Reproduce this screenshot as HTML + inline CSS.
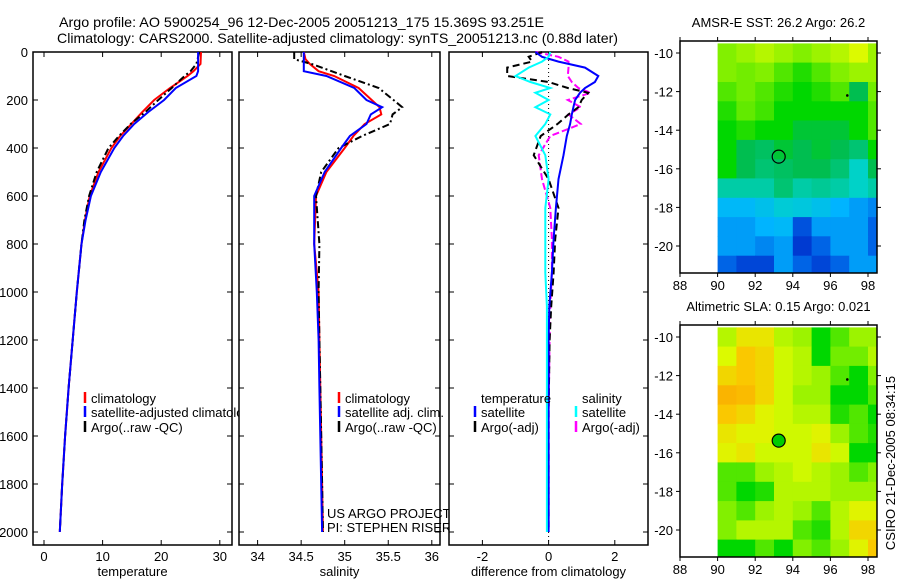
<!DOCTYPE html>
<html><head><meta charset="utf-8"><style>
html,body{margin:0;padding:0;background:#fff;}
svg{display:block;font-family:"Liberation Sans",sans-serif;}
</style></head><body>
<svg id="fig" width="900" height="580" viewBox="0 0 900 580" xmlns="http://www.w3.org/2000/svg">
<rect width="900" height="580" fill="#fff"/>
<text x="59" y="27" font-size="14" textLength="485" lengthAdjust="spacingAndGlyphs">Argo profile: AO 5900254_96 12-Dec-2005 20051213_175 15.369S 93.251E</text>
<text x="57" y="43" font-size="14" textLength="561" lengthAdjust="spacingAndGlyphs">Climatology: CARS2000. Satellite-adjusted climatology: synTS_20051213.nc (0.88d later)</text>
<g id="root"></g>
<text transform="translate(895,463) rotate(-90)" font-size="13" text-anchor="middle">CSIRO 21-Dec-2005 08:34:15</text>
</svg>
<script>
// ---- data ----
const tempDepths=[0,50,80,100,150,200,250,300,350,400,500,600,700,800,1000,1200,1400,1600,1800,2000];
const tempClim=[26.8,26.7,25.5,24.5,21.5,18.8,16.8,14.9,13.0,11.5,9.3,7.8,7.0,6.4,5.6,4.9,4.2,3.6,3.1,2.7];
const tempSat=[26.3,26.3,26.3,26.0,22.5,20.5,17.8,15.4,13.5,12.0,9.7,8.0,7.1,6.4,5.6,4.9,4.2,3.6,3.1,2.7];
const tempArgo=[26.5,26.0,25.0,24.0,21.8,19.5,17.3,14.8,12.8,11.0,9.0,7.7,6.9,6.4,5.6,4.9,4.2,3.6,3.1,2.7];
const saltDepths=[0,30,50,80,100,150,200,230,260,300,350,400,500,600,800,1000,1200,1400,1600,1800,2000];
const saltClim=[34.53,34.55,34.6,34.7,34.88,35.16,35.31,35.4,35.42,35.23,35.1,35.0,34.79,34.67,34.65,34.7,34.71,34.72,34.73,34.74,34.75];
const saltSat=[34.53,34.53,34.53,34.53,34.79,35.11,35.25,35.43,35.3,35.25,35.06,34.96,34.77,34.65,34.65,34.68,34.7,34.71,34.72,34.73,34.74];
const saltArgo=[34.42,34.42,34.62,34.85,35.0,35.39,35.56,35.66,35.55,35.52,35.2,34.93,34.73,34.67,34.71,34.7,34.71,34.72,34.73,34.74,34.75];
const diffDepths=[0,20,40,65,100,125,150,170,200,230,260,300,350,430,530,650,780,920,1060,1200,1500,2000];
const diffTSat=[-0.4,-0.2,0.3,1.1,1.5,1.4,1.1,0.95,0.8,0.75,0.7,0.65,0.55,0.45,0.3,0.22,0.15,0.1,0.02,0.0,0,0];
const diffTArgo=[-0.2,-0.6,-0.5,-1.25,-1.25,0.0,0.58,1.2,1.0,0.9,0.6,0.27,-0.24,-0.45,0.0,0.3,0.2,0.15,0.08,0.03,0,0];
const diffSSat=[0.05,0.0,-0.2,-0.6,-1.0,-0.55,0.05,-0.4,0.0,-0.4,0.05,-0.1,-0.4,-0.1,0.0,-0.1,-0.1,-0.1,-0.05,-0.05,-0.05,-0.05];
const diffSArgo=[-0.4,0.3,0.6,0.6,0.58,0.7,0.9,1.27,0.58,0.97,0.6,0.97,0.05,-0.3,-0.2,0.05,0.1,0.1,0.05,0.03,0,0];
const depthTicks=[0,200,400,600,800,1000,1200,1400,1600,1800,2000];
const tempTicks=[0,10,20,30];
const saltTicks=[34,34.5,35,35.5,36];
const diffTicks=[-2,0,2];
const mapLonTicks=[88,90,92,94,96,98];
const mapLatTicks=[-10,-12,-14,-16,-18,-20];
const gridLons=[90,91,92,93,94,95,96,97,98];
const gridLats=[-10,-11,-12,-13,-14,-15,-16,-17,-18,-19,-20,-21];
const sstGrid=[
[0.58,0.6,0.62,0.6,0.58,0.6,0.62,0.65,0.6],
[0.58,0.57,0.58,0.55,0.52,0.55,0.58,0.6,0.6],
[0.55,0.57,0.55,0.52,0.5,0.52,0.55,0.47,0.57],
[0.52,0.56,0.54,0.5,0.5,0.5,0.5,0.5,0.55],
[0.5,0.52,0.5,0.5,0.48,0.48,0.48,0.5,0.55],
[0.5,0.47,0.46,0.48,0.47,0.48,0.47,0.45,0.5],
[0.5,0.47,0.45,0.46,0.47,0.47,0.45,0.4,0.47],
[0.42,0.42,0.42,0.45,0.42,0.43,0.42,0.4,0.42],
[0.33,0.33,0.35,0.38,0.37,0.35,0.32,0.3,0.28],
[0.3,0.3,0.32,0.33,0.22,0.3,0.3,0.3,0.25],
[0.3,0.3,0.28,0.3,0.18,0.25,0.3,0.3,0.25],
[0.25,0.2,0.2,0.3,0.25,0.2,0.25,0.3,0.3]];
const slaGrid=[
[0.62,0.68,0.68,0.62,0.6,0.5,0.55,0.6,0.6],
[0.65,0.72,0.7,0.64,0.62,0.5,0.57,0.57,0.62],
[0.7,0.72,0.7,0.64,0.62,0.6,0.55,0.5,0.58],
[0.75,0.74,0.7,0.64,0.6,0.6,0.5,0.5,0.55],
[0.72,0.7,0.66,0.64,0.62,0.62,0.52,0.55,0.5],
[0.68,0.66,0.66,0.64,0.64,0.66,0.6,0.55,0.52],
[0.66,0.68,0.64,0.64,0.64,0.68,0.64,0.5,0.5],
[0.55,0.55,0.6,0.62,0.64,0.62,0.6,0.55,0.58],
[0.55,0.5,0.52,0.62,0.62,0.62,0.6,0.6,0.6],
[0.58,0.55,0.6,0.62,0.6,0.55,0.62,0.66,0.66],
[0.58,0.62,0.62,0.62,0.55,0.52,0.62,0.7,0.7],
[0.5,0.5,0.55,0.5,0.58,0.55,0.6,0.66,0.72]];
const floatLon=93.25, floatLat=-15.37;

// ---- helpers ----
const NS="http://www.w3.org/2000/svg";
const root=document.getElementById('root');
function mk(tag,attrs,parent){const e=document.createElementNS(NS,tag);for(const k in attrs)e.setAttribute(k,attrs[k]);(parent||root).appendChild(e);return e;}
const PT=52,PB=545;
const yDepth=d=>PT+d*0.24;

function panel(name,x0,x1,xScale,ticks,fmt,label,showY){
  const g=mk('g',{});
  
  
  mk('rect',{x:x0,y:PT,width:x1-x0,height:PB-PT,fill:'#fff',stroke:'#000','stroke-width':1.5},g);
  depthTicks.forEach(d=>{
    const y=yDepth(d);
    mk('line',{x1:x0,x2:x0+5,y1:y,y2:y,stroke:'#000'},g);
    mk('line',{x1:x1-5,x2:x1,y1:y,y2:y,stroke:'#000'},g);
    if(showY){const t=mk('text',{x:x0-5,y:y+5,'font-size':13,'text-anchor':'end'},g);t.textContent=d;
      
      }
  });
  ticks.forEach(v=>{
    const x=xScale(v);
    mk('line',{x1:x,x2:x,y1:PT,y2:PT+5,stroke:'#000'},g);
    mk('line',{x1:x,x2:x,y1:PB-5,y2:PB,stroke:'#000'},g);
    const t=mk('text',{x:x,y:561,'font-size':13,'text-anchor':'middle'},g);t.textContent=fmt(v);
    
    
  });
  const t=mk('text',{x:(x0+x1)/2,y:576,'font-size':13,'text-anchor':'middle'},g);t.textContent=label;
  
  
  return g;
}
function series(g,name,depths,vals,xScale,color,dash,w){
  const pts=vals.map((v,i)=>xScale(v).toFixed(1)+','+yDepth(depths[i]).toFixed(1)).join(' ');
  const p=mk('polyline',{points:pts,fill:'none',stroke:color,'stroke-width':w||2,'stroke-dasharray':dash||'none'},g);
  
  
}
function legend(g,x,y,color,text){
  mk('line',{x1:x,x2:x,y1:y-11,y2:y,stroke:color,'stroke-width':2.5},g);
  const t=mk('text',{x:x+6,y:y,'font-size':13},g);t.textContent=text;
  
  
}

// temperature panel
const xT=v=>44+v*5.86;
const g1=panel('temperature-panel',33,232,xT,tempTicks,v=>v,'temperature',true);
series(g1,'temp-climatology-line',tempDepths,tempClim,xT,'#f00');
series(g1,'temp-argo-line',tempDepths,tempArgo,xT,'#000','7,3,2,3');
series(g1,'temp-satellite-line',tempDepths,tempSat,xT,'#00f');
legend(g1,85,403,'#f00','climatology');
legend(g1,85,417,'#00f','satellite-adjusted climatology');
legend(g1,85,432,'#000','Argo(..raw -QC)');

// salinity panel
const xS=v=>257.6+(v-34)*87.1;
const g2=panel('salinity-panel',239,440,xS,saltTicks,v=>v,'salinity',false);
series(g2,'salt-climatology-line',saltDepths,saltClim,xS,'#f00');
series(g2,'salt-argo-line',saltDepths,saltArgo,xS,'#000','7,3,2,3');
series(g2,'salt-satellite-line',saltDepths,saltSat,xS,'#00f');
legend(g2,339,403,'#f00','climatology');
legend(g2,339,417,'#00f','satellite adj. clim.');
legend(g2,339,432,'#000','Argo(..raw -QC)');
let t=mk('text',{x:327,y:518,'font-size':13},g2);t.textContent='US ARGO PROJECT';


t=mk('text',{x:327,y:532,'font-size':13},g2);t.textContent='PI: STEPHEN RISER';



// difference panel
const xD=v=>548.6+v*33.1;
const g3=panel('difference-panel',449,648,xD,diffTicks,v=>v,'difference from climatology',false);
mk('line',{x1:xD(0),x2:xD(0),y1:PT,y2:yDepth(2050),stroke:'#000','stroke-dasharray':'1,3'},g3);
series(g3,'diff-salt-argo-line',diffDepths,diffSArgo,xD,'#f0f','7,3');
series(g3,'diff-temp-argo-line',diffDepths,diffTArgo,xD,'#000','7,4');
series(g3,'diff-temp-satellite-line',diffDepths,diffTSat,xD,'#00f');
series(g3,'diff-salt-satellite-line',diffDepths,diffSSat,xD,'#0ff');
t=mk('text',{x:481,y:403,'font-size':13},g3);t.textContent='temperature';


t=mk('text',{x:582,y:403,'font-size':13},g3);t.textContent='salinity';


legend(g3,475,417,'#00f','satellite');
legend(g3,475,432,'#000','Argo(-adj)');
legend(g3,576,417,'#0ff','satellite');
legend(g3,576,432,'#f0f','Argo(-adj)');

// maps
const stops=[[0.15,[0,40,200]],[0.25,[0,100,230]],[0.32,[0,180,255]],[0.4,[0,210,200]],[0.47,[0,190,80]],[0.5,[0,215,0]],[0.58,[130,240,0]],[0.65,[220,250,0]],[0.72,[250,200,0]],[0.78,[250,160,0]]];
function cmap(v){
  if(v<=stops[0][0])return 'rgb('+stops[0][1]+')';
  for(let i=1;i<stops.length;i++){if(v<=stops[i][0]){const a=stops[i-1],b=stops[i],f=(v-a[0])/(b[0]-a[0]);
    return 'rgb('+a[1].map((c,k)=>Math.round(c+(b[1][k]-c)*f)).join(',')+')';}}
  return 'rgb('+stops[stops.length-1][1]+')';
}
function mapPanel(name,top,title,grid,filled){
  const L=680,R=877,B=top+232;
  const xL=lon=>680+(lon-88)*18.8;
  const yL=lat=>top+12+(-10-lat)*19.3;
  const g=mk('g',{});
  
  
  const tt=mk('text',{x:(L+R)/2,y:top-14,'font-size':13,'text-anchor':'middle'},g);tt.textContent=title;
  
  
  const cid=name+'-clip';
  const cp=mk('clipPath',{id:cid},g);mk('rect',{x:L,y:top,width:R-L,height:B-top},cp);
  const cells=mk('g',{'clip-path':'url(#'+cid+')'},g);
  grid.forEach((row,i)=>row.forEach((v,j)=>{
    const x0=xL(gridLons[j]),y0=yL(gridLats[i]+0.5);
    const r=mk('rect',{x:x0.toFixed(1),y:y0.toFixed(1),width:(18.8+0.5).toFixed(1),height:(19.3+0.5).toFixed(1),fill:cmap(v)},cells);
    
    
  }));
  mk('rect',{x:L,y:top,width:R-L,height:B-top,fill:'none',stroke:'#000','stroke-width':1.5},g);
  mapLonTicks.forEach(lon=>{const x=xL(lon);
    mk('line',{x1:x,x2:x,y1:B,y2:B+4,stroke:'#000'},g);
    mk('line',{x1:x,x2:x,y1:top-4,y2:top,stroke:'#000'},g);
    const l=mk('text',{x:x,y:B+17,'font-size':13,'text-anchor':'middle'},g);l.textContent=lon;
    
    });
  mapLatTicks.forEach(lat=>{const y=yL(lat);
    mk('line',{x1:L-4,x2:L,y1:y,y2:y,stroke:'#000'},g);
    mk('line',{x1:R,x2:R+4,y1:y,y2:y,stroke:'#000'},g);
    const l=mk('text',{x:L-7,y:y+5,'font-size':13,'text-anchor':'end'},g);l.textContent=lat;
    
    });
  const c=mk('circle',{cx:xL(floatLon),cy:yL(floatLat),r:6.5,fill:filled?'#0c0':'none',stroke:'#000','stroke-width':1.2},g);
  
  
  mk('circle',{cx:xL(96.9),cy:yL(-12.2),r:1.3,fill:'#000'},g);
}
mapPanel('sst-map',41,'AMSR-E SST: 26.2 Argo: 26.2',sstGrid,false);
mapPanel('sla-map',325,'Altimetric SLA: 0.15 Argo: 0.021',slaGrid,true);
</script>
</body></html>
